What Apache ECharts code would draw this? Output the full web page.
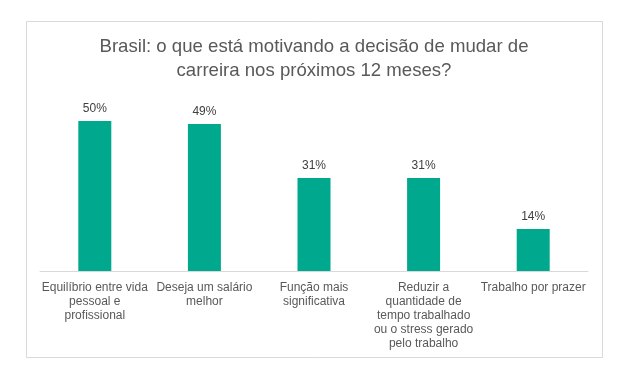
<!DOCTYPE html>
<html>
<head>
<meta charset="utf-8">
<script src="https://cdn.jsdelivr.net/npm/echarts@6/dist/echarts.min.js"></script>
<style>
html,body{margin:0;padding:0;background:#fff;}
#chart{width:628px;height:367px;}
</style>
</head>
<body>
<div id="chart"></div>
<script>
const titleText = 'Brasil: o que está motivando a decisão de mudar de\ncarreira nos próximos 12 meses?';
const categories = [
  'Equilíbrio entre vida\npessoal e\nprofissional',
  'Deseja um salário\nmelhor',
  'Função mais\nsignificativa',
  'Reduzir a\nquantidade de\ntempo trabalhado\nou o stress gerado\npelo trabalho',
  'Trabalho por prazer'
];
const values = [50, 49, 31, 31, 14];

const chart = echarts.init(document.getElementById('chart'), null, {renderer: 'canvas'});
chart.setOption({
  backgroundColor: '#ffffff',
  animation: false,
  graphic: [{
    type: 'rect',
    shape: {x: 26.5, y: 21.5, width: 576, height: 336},
    style: {fill: 'none', stroke: '#d9d9d9', lineWidth: 1},
    z: -1
  }],
  title: {
    text: titleText,
    left: 'center',
    top: 30,
    textStyle: {
      fontFamily: 'Liberation Sans, Arial, sans-serif',
      fontSize: 18.6,
      fontWeight: 'normal',
      color: '#595959',
      lineHeight: 24
    }
  },
  grid: {left: 40, right: 40, top: 121, bottom: 96, containLabel: false},
  xAxis: {
    type: 'category',
    data: categories,
    axisLine: {lineStyle: {color: '#d9d9d9', width: 1}},
    axisTick: {show: false},
    axisLabel: {
      interval: 0,
      margin: 10,
      fontFamily: 'Liberation Sans, Arial, sans-serif',
      fontSize: 12,
      color: '#595959',
      lineHeight: 14
    }
  },
  yAxis: {
    type: 'value',
    min: 0,
    max: 50,
    show: false,
    splitLine: {show: false}
  },
  series: [{
    type: 'bar',
    data: values,
    barWidth: 33,
    itemStyle: {color: '#00A88E'},
    label: {
      show: true,
      position: 'top',
      distance: 6,
      formatter: '{c}%',
      fontFamily: 'Liberation Sans, Arial, sans-serif',
      fontSize: 12,
      color: '#404040'
    }
  }]
});
</script>
</body>
</html>
